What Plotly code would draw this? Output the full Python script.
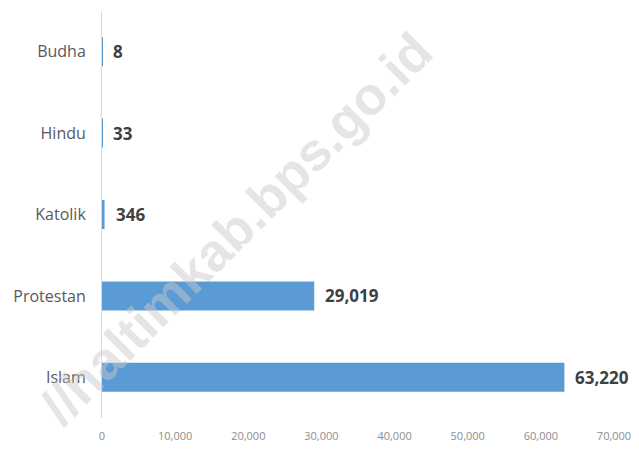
import plotly.graph_objects as go

categories = ["Islam", "Protestan", "Katolik", "Hindu", "Budha"]
values = [63220, 29019, 346, 33, 8]
x_ticks = [0, 10000, 20000, 30000, 40000, 50000, 60000, 70000]
watermark = "//haltimkab.bps.go.id"

BAR_COLOR = "#5B9BD5"
FONT = "Open Sans"

fig = go.Figure()
fig.add_trace(go.Bar(
    x=values,
    y=categories,
    orientation="h",
    marker=dict(color=BAR_COLOR, line=dict(width=0)),
    hoverinfo="x+y",
))

for cat, val in zip(categories, values):
    fig.add_annotation(
        x=val, y=cat, xref="x", yref="y",
        text=f"{val:,}", showarrow=False,
        xanchor="left", yanchor="middle", xshift=9,
        font=dict(family=FONT, size=17, color="#404040", weight="bold"),
    )

fig.add_annotation(
    x=0.262, y=0.465, xref="paper", yref="paper",
    text=watermark, showarrow=False, textangle=-45,
    xanchor="center", yanchor="middle",
    font=dict(family="Liberation Sans", size=53, color="rgba(200,200,200,0.48)", weight="bold"),
)

# page body has an 8px margin, so the figure is sized/offset to compensate
fig.update_layout(
    width=631, height=443,
    margin=dict(l=94, r=25, t=3, b=33, autoexpand=False),
    paper_bgcolor="white", plot_bgcolor="white",
    bargap=0.644,
    showlegend=False,
    font=dict(family=FONT),
    xaxis=dict(
        range=[0, 70000], tickvals=x_ticks, tickformat=",",
        showgrid=False, zeroline=False, showline=False, ticks="",
        tickfont=dict(family=FONT, size=11, color="#8c8c8c"),
        ticklabelstandoff=10, fixedrange=True,
    ),
    yaxis=dict(
        categoryorder="array", categoryarray=categories,
        showgrid=False, zeroline=False, showline=True,
        linecolor="#d9d9d9", linewidth=1, ticks="",
        tickfont=dict(family=FONT, size=16, color="#595959"),
        ticklabelstandoff=12, fixedrange=True,
    ),
)

fig.write_html("out.html")
